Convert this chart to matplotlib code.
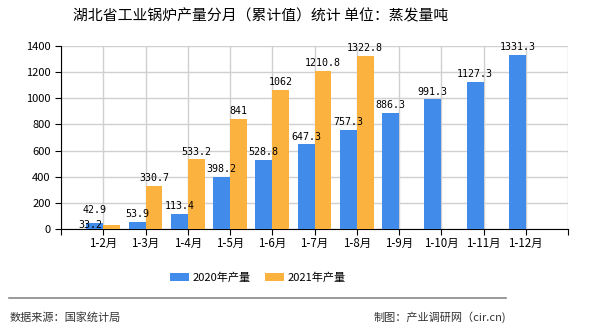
import matplotlib.pyplot as plt
import numpy as np
from matplotlib.patches import Patch

plt.rcParams['font.family'] = ['Noto Sans CJK SC', 'DejaVu Sans']

months = ['1-2月', '1-3月', '1-4月', '1-5月', '1-6月', '1-7月', '1-8月',
          '1-9月', '1-10月', '1-11月', '1-12月']
y2020 = [42.9, 53.9, 113.4, 398.2, 528.8, 647.3, 757.3, 886.3, 991.3, 1127.3, 1331.3]
y2021 = [33.2, 330.7, 533.2, 841, 1062, 1210.8, 1322.8]
lab2020 = ['42.9', '53.9', '113.4', '398.2', '528.8', '647.3', '757.3',
           '886.3', '991.3', '1127.3', '1331.3']
lab2021 = ['33.2', '330.7', '533.2', '841', '1062', '1210.8', '1322.8']

c_blue = '#418BEB'
c_orange = '#FBB23F'

fig = plt.figure(figsize=(5.9, 3.3), dpi=100)
ax = fig.add_axes([61/590, 1 - 229/330, (568-61)/590, (229-46)/330])

x = np.arange(1, len(months) + 1)
w = 0.4
ax.bar(x[:len(y2020)] - w/2, y2020, width=w, color=c_blue, zorder=3)
x21 = x[:len(y2021)]
ax.bar(x21 + w/2, y2021, width=w, color=c_orange, zorder=3)

fs = 7.2
mono = 'DejaVu Sans Mono'
for i, (v, s) in enumerate(zip(y2020, lab2020)):
    dy = 6 if i == 0 else 2
    ax.annotate(s, (x[i] - w/2, v), xytext=(0, dy), textcoords='offset points',
                ha='center', va='bottom', fontsize=fs, family=mono, zorder=4)
for i, (v, s) in enumerate(zip(y2021, lab2021)):
    if i == 0:
        # first label sits over the blue bar in the original
        ax.annotate(s, (x[i] - w/2 - 0.1, v), xytext=(0, -4), textcoords='offset points',
                    ha='center', va='bottom', fontsize=fs, family=mono, zorder=4)
    else:
        ax.annotate(s, (x21[i] + w/2, v), xytext=(0, 2), textcoords='offset points',
                    ha='center', va='bottom', fontsize=fs, family=mono, zorder=4)

ax.set_xlim(0, 12)
ax.set_ylim(0, 1400)
ax.set_xticks(np.arange(0, 13))
ax.set_xticklabels([''] + months + [''], fontsize=8.3)
ax.set_yticks(np.arange(0, 1401, 200))
ax.tick_params(axis='y', labelsize=8, length=4)
ax.tick_params(axis='x', length=4, pad=2)
ax.grid(True, color='#d0d0d0', linewidth=1, zorder=0)
ax.spines['top'].set_visible(False)
ax.spines['right'].set_visible(False)
ax.spines['left'].set_color('black')
ax.spines['bottom'].set_color('black')

fig.text(261/590, 1 - 16/330, '湖北省工业锅炉产量分月（累计值）统计 单位：蒸发量吨',
         ha='center', va='center', fontsize=10.7)

handles = [Patch(facecolor=c_blue, label='2020年产量'),
           Patch(facecolor=c_orange, label='2021年产量')]
fig.legend(handles=handles, loc='center', bbox_to_anchor=(258/590, 1 - 278/330),
           ncol=2, frameon=False, fontsize=8, handlelength=1.7, handleheight=0.75,
           columnspacing=1.3, handletextpad=0.3)

fig.add_artist(plt.Line2D([9/590, 506/590], [1 - 298/330, 1 - 298/330],
                          color='#888888', linewidth=1.2))
fig.text(10/590, 1 - 317/330, '数据来源：国家统计局', ha='left', va='center',
         fontsize=8, color='#333333')
fig.text(506/590, 1 - 317/330, '制图：产业调研网（cir.cn)', ha='right', va='center',
         fontsize=8, color='#333333')

fig.savefig('out.png', dpi=100)
